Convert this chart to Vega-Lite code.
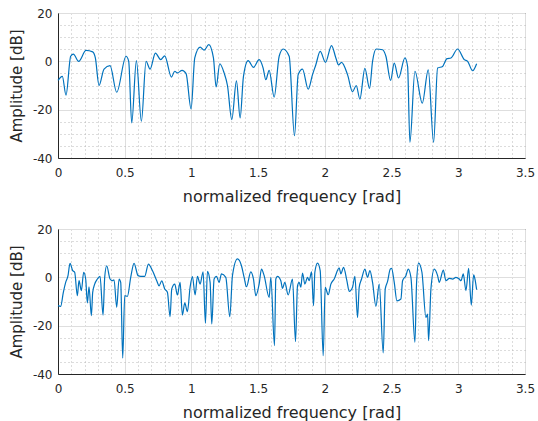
{
  "$schema": "https://vega.github.io/schema/vega-lite/v6.json",
  "background": "white",
  "padding": {"left": 8, "top": 6, "right": 2, "bottom": 2},
  "spacing": 17,
  "config": {
    "font": "DejaVu Sans",
    "view": {"stroke": "#262626", "strokeWidth": 1},
    "axis": {
      "labelFont": "DejaVu Sans",
      "titleFont": "DejaVu Sans",
      "labelColor": "#262626",
      "titleColor": "#262626",
      "titleFontWeight": "normal",
      "labelFontSize": 12,
      "titleFontSize": 15,
      "domainColor": "#262626",
      "labelFlush": false,
      "ticks": false
    }
  },
  "datasets": {
    "top": [
      {"f":0,"a":-7.9},{"f":0.0325,"a":-6.2},{"f":0.06,"a":-14},{"f":0.095,"a":2.1},{"f":0.115,"a":3},
      {"f":0.155,"a":0},{"f":0.21,"a":4.5},{"f":0.26,"a":3.9},{"f":0.28,"a":1.4},{"f":0.3075,"a":-10},
      {"f":0.345,"a":-3.2},{"f":0.39,"a":-1.8},{"f":0.44,"a":-12.8},{"f":0.51,"a":2.1},{"f":0.53,"a":0},
      {"f":0.5525,"a":-25.5},{"f":0.5875,"a":0.3},{"f":0.625,"a":-24.8},{"f":0.66,"a":0},{"f":0.69,"a":-3.2},
      {"f":0.73,"a":3.4},{"f":0.77,"a":0.7},{"f":0.8,"a":2.3},{"f":0.85,"a":-6.5},{"f":0.875,"a":-4.1},
      {"f":0.895,"a":-4.8},{"f":0.93,"a":-3.7},{"f":0.96,"a":-5.1},{"f":0.9975,"a":-19.7},{"f":1.025,"a":1.4},
      {"f":1.065,"a":5.9},{"f":1.095,"a":4.6},{"f":1.13,"a":6.9},{"f":1.165,"a":1.4},{"f":1.185,"a":-10.6},
      {"f":1.2125,"a":-1},{"f":1.245,"a":-4.8},{"f":1.27,"a":-10},{"f":1.3025,"a":-24.1},{"f":1.3375,"a":-8.1},
      {"f":1.365,"a":-23.4},{"f":1.39,"a":-6.2},{"f":1.425,"a":0.3},{"f":1.465,"a":-2.5},{"f":1.5075,"a":0.7},
      {"f":1.5375,"a":-2.8},{"f":1.5575,"a":-7.6},{"f":1.5825,"a":-3.7},{"f":1.62,"a":-14.8},{"f":1.6575,"a":2.1},
      {"f":1.6875,"a":5.1},{"f":1.7325,"a":2.1},{"f":1.7725,"a":-30.8},{"f":1.8,"a":-5.5},{"f":1.8325,"a":-3.2},
      {"f":1.875,"a":-11.5},{"f":1.9075,"a":-5.5},{"f":1.9325,"a":-1.4},{"f":1.965,"a":4.1},{"f":2.005,"a":-0.4},
      {"f":2.05,"a":6.5},{"f":2.0825,"a":1.4},{"f":2.1025,"a":-1.5},{"f":2.125,"a":-0.4},{"f":2.17,"a":-5.5},
      {"f":2.2075,"a":-12.6},{"f":2.235,"a":-10},{"f":2.2625,"a":-15.6},{"f":2.3,"a":-2.9},{"f":2.335,"a":-11.2},
      {"f":2.3575,"a":0},{"f":2.385,"a":5.1},{"f":2.4325,"a":4.8},{"f":2.4575,"a":2.1},{"f":2.4925,"a":-7.9},
      {"f":2.52,"a":-0.7},{"f":2.5525,"a":-6.9},{"f":2.6,"a":1.4},{"f":2.62,"a":-2.1},{"f":2.6375,"a":-33.5},
      {"f":2.675,"a":-4.1},{"f":2.73,"a":-17.3},{"f":2.775,"a":-3.5},{"f":2.815,"a":-33.5},{"f":2.845,"a":-2.8},
      {"f":2.8825,"a":-2.1},{"f":2.915,"a":1.1},{"f":2.945,"a":1.4},{"f":2.995,"a":5.1},{"f":3.045,"a":0.7},
      {"f":3.07,"a":0},{"f":3.1075,"a":-3.9},{"f":3.1375,"a":-1.0}
    ],
    "bottom": [
      {"f":0,"a":-11.7},{"f":0.02,"a":-12},{"f":0.04,"a":-6.2},{"f":0.0575,"a":-2.1},{"f":0.075,"a":0.7},
      {"f":0.09,"a":5.8},{"f":0.11,"a":2.8},{"f":0.125,"a":2.1},{"f":0.145,"a":-7.6},{"f":0.1575,"a":-1.4},
      {"f":0.175,"a":-5.5},{"f":0.1925,"a":2.1},{"f":0.2075,"a":-0.7},{"f":0.22,"a":-10.6},{"f":0.2325,"a":-3.9},
      {"f":0.25,"a":-15.9},{"f":0.26,"a":-6.2},{"f":0.275,"a":-2.8},{"f":0.295,"a":-0.7},{"f":0.315,"a":0.4},
      {"f":0.3375,"a":-15.6},{"f":0.35,"a":0},{"f":0.365,"a":4.8},{"f":0.39,"a":-0.7},{"f":0.4075,"a":-1.4},
      {"f":0.42,"a":-1.0},{"f":0.44,"a":-12.4},{"f":0.4575,"a":-0.7},{"f":0.47,"a":-2.1},{"f":0.485,"a":-33.4},
      {"f":0.5,"a":-7.6},{"f":0.52,"a":-7.9},{"f":0.545,"a":0},{"f":0.57,"a":5.8},{"f":0.6,"a":0.7},
      {"f":0.62,"a":0.4},{"f":0.65,"a":0.4},{"f":0.6775,"a":5.5},{"f":0.7075,"a":2.8},{"f":0.74,"a":-1.4},
      {"f":0.7575,"a":-3.5},{"f":0.7775,"a":-1.5},{"f":0.8,"a":-4.8},{"f":0.82,"a":-6.2},{"f":0.84,"a":-16.3},
      {"f":0.8525,"a":-4.8},{"f":0.875,"a":-2.8},{"f":0.895,"a":-7.3},{"f":0.915,"a":-2.1},{"f":0.9325,"a":-15.6},
      {"f":0.95,"a":-10.6},{"f":0.97,"a":-14.2},{"f":0.99,"a":-4.1},{"f":1.0075,"a":0.3},{"f":1.0275,"a":-7.3},
      {"f":1.045,"a":0.4},{"f":1.065,"a":-2.8},{"f":1.0875,"a":2.3},{"f":1.105,"a":-19},{"f":1.12,"a":2.5},
      {"f":1.14,"a":-2.1},{"f":1.1525,"a":-19.3},{"f":1.17,"a":-0.7},{"f":1.1875,"a":0.4},{"f":1.2075,"a":-2.1},
      {"f":1.225,"a":1.4},{"f":1.2575,"a":0},{"f":1.2875,"a":-16.3},{"f":1.3075,"a":0.7},{"f":1.345,"a":7.6},
      {"f":1.375,"a":4.8},{"f":1.395,"a":0},{"f":1.4125,"a":-3.9},{"f":1.445,"a":2.3},{"f":1.465,"a":-0.7},
      {"f":1.4825,"a":-7.6},{"f":1.5075,"a":-2.8},{"f":1.525,"a":3.4},{"f":1.545,"a":0.7},{"f":1.5825,"a":-8.3},
      {"f":1.595,"a":0},{"f":1.6225,"a":-28.3},{"f":1.6325,"a":-0.7},{"f":1.645,"a":0.4},{"f":1.67,"a":-1.4},
      {"f":1.6825,"a":-4.6},{"f":1.7,"a":-2.1},{"f":1.725,"a":-7.3},{"f":1.7575,"a":-0.7},{"f":1.78,"a":-26.6},
      {"f":1.795,"a":-3.5},{"f":1.8075,"a":-2.1},{"f":1.82,"a":-4.1},{"f":1.8325,"a":1.8},{"f":1.85,"a":-2.8},
      {"f":1.87,"a":0},{"f":1.8825,"a":-1.4},{"f":1.9,"a":2.3},{"f":1.915,"a":-11.7},{"f":1.925,"a":2.1},
      {"f":1.945,"a":5.9},{"f":1.965,"a":2.8},{"f":1.9875,"a":-32.4},{"f":2.0025,"a":-4.1},{"f":2.025,"a":-7.2},
      {"f":2.045,"a":-2.8},{"f":2.07,"a":-0.7},{"f":2.1075,"a":3.9},{"f":2.12,"a":1.4},{"f":2.14,"a":4.1},
      {"f":2.165,"a":-1.4},{"f":2.1825,"a":-5.8},{"f":2.2075,"a":-4.1},{"f":2.225,"a":0.4},{"f":2.245,"a":-16.6},
      {"f":2.2575,"a":-4.1},{"f":2.275,"a":-0.7},{"f":2.3,"a":3.4},{"f":2.32,"a":0},{"f":2.3375,"a":2.8},
      {"f":2.3575,"a":-2.1},{"f":2.3825,"a":-12},{"f":2.4075,"a":-2.8},{"f":2.4375,"a":-31.3},{"f":2.4525,"a":-4.8},
      {"f":2.47,"a":-1.7},{"f":2.49,"a":3.4},{"f":2.5,"a":3.7},{"f":2.52,"a":-2.1},{"f":2.54,"a":-9.7},
      {"f":2.57,"a":-9},{"f":2.5825,"a":-1.4},{"f":2.6075,"a":0.7},{"f":2.625,"a":3.4},{"f":2.645,"a":0},
      {"f":2.675,"a":-26.9},{"f":2.6875,"a":-2.1},{"f":2.7025,"a":5.9},{"f":2.7275,"a":2.1},{"f":2.7575,"a":-16.6},
      {"f":2.77,"a":-15.2},{"f":2.7775,"a":-26.2},{"f":2.795,"a":-4.8},{"f":2.82,"a":3.4},{"f":2.845,"a":0.7},
      {"f":2.8575,"a":-2.1},{"f":2.8875,"a":3},{"f":2.9075,"a":-1.4},{"f":2.9325,"a":-0.4},{"f":2.9575,"a":-0.7},
      {"f":2.9825,"a":0},{"f":3.0075,"a":-0.7},{"f":3.02,"a":-1.4},{"f":3.0375,"a":1.4},{"f":3.0575,"a":-5.5},
      {"f":3.0775,"a":3.7},{"f":3.0975,"a":-11.5},{"f":3.115,"a":1},{"f":3.125,"a":-0.7},{"f":3.1375,"a":-5.1}
    ]
  },
  "vconcat": [
    {
      "width": 467, "height": 145,
      "data": {"name": "top"},
      "layer": [
        {
          "mark": {"type": "line", "opacity": 0},
          "encoding": {
            "x": {"field": "f", "type": "quantitative", "scale": {"domain": [0, 3.5], "nice": false},
                  "axis": {"orient": "top", "values": [0.1,0.2,0.3,0.4,0.6,0.7,0.8,0.9,1.1,1.2,1.3,1.4,1.6,1.7,1.8,1.9,2.1,2.2,2.3,2.4,2.6,2.7,2.8,2.9,3.1,3.2,3.3,3.4],
                           "grid": true, "gridDash": [1, 3], "gridColor": "#b8b8b8", "gridWidth": 1, "labels": false, "ticks": false, "domain": false, "title": null}},
            "y": {"field": "a", "type": "quantitative", "scale": {"domain": [-40, 20], "nice": false},
                  "axis": {"orient": "right", "values": [-35,-30,-25,-15,-10,-5,5,10,15],
                           "grid": true, "gridDash": [1, 3], "gridColor": "#b8b8b8", "gridWidth": 1, "labels": false, "ticks": false, "domain": false, "title": null}}
          }
        },
        {
          "mark": {"type": "line", "color": "#0072BD", "strokeWidth": 1.2, "interpolate": "monotone"},
          "encoding": {
            "x": {"field": "f", "type": "quantitative", "scale": {"domain": [0, 3.5], "nice": false},
                  "axis": {"orient": "bottom", "values": [0,0.5,1,1.5,2,2.5,3,3.5], "labelExpr": "'' + datum.value",
                           "grid": true, "gridColor": "#dedede", "labelPadding": 9, "titlePadding": 10, "titleFontSize": 16, "title": "normalized frequency [rad]"}},
            "y": {"field": "a", "type": "quantitative", "scale": {"domain": [-40, 20], "nice": false},
                  "axis": {"orient": "left", "values": [-40,-20,0,20], "labelExpr": "'' + datum.value",
                           "grid": true, "gridColor": "#dedede", "labelPadding": 6, "titlePadding": 8, "title": "Amplitude [dB]"}}
          }
        }
      ],
      "resolve": {"axis": {"x": "independent", "y": "independent"}}
    },
    {
      "width": 467, "height": 145,
      "data": {"name": "bottom"},
      "layer": [
        {
          "mark": {"type": "line", "opacity": 0},
          "encoding": {
            "x": {"field": "f", "type": "quantitative", "scale": {"domain": [0, 3.5], "nice": false},
                  "axis": {"orient": "top", "values": [0.1,0.2,0.3,0.4,0.6,0.7,0.8,0.9,1.1,1.2,1.3,1.4,1.6,1.7,1.8,1.9,2.1,2.2,2.3,2.4,2.6,2.7,2.8,2.9,3.1,3.2,3.3,3.4],
                           "grid": true, "gridDash": [1, 3], "gridColor": "#b8b8b8", "gridWidth": 1, "labels": false, "ticks": false, "domain": false, "title": null}},
            "y": {"field": "a", "type": "quantitative", "scale": {"domain": [-40, 20], "nice": false},
                  "axis": {"orient": "right", "values": [-35,-30,-25,-15,-10,-5,5,10,15],
                           "grid": true, "gridDash": [1, 3], "gridColor": "#b8b8b8", "gridWidth": 1, "labels": false, "ticks": false, "domain": false, "title": null}}
          }
        },
        {
          "mark": {"type": "line", "color": "#0072BD", "strokeWidth": 1.2, "interpolate": "monotone"},
          "encoding": {
            "x": {"field": "f", "type": "quantitative", "scale": {"domain": [0, 3.5], "nice": false},
                  "axis": {"orient": "bottom", "values": [0,0.5,1,1.5,2,2.5,3,3.5], "labelExpr": "'' + datum.value",
                           "grid": true, "gridColor": "#dedede", "labelPadding": 9, "titlePadding": 10, "titleFontSize": 16, "title": "normalized frequency [rad]"}},
            "y": {"field": "a", "type": "quantitative", "scale": {"domain": [-40, 20], "nice": false},
                  "axis": {"orient": "left", "values": [-40,-20,0,20], "labelExpr": "'' + datum.value",
                           "grid": true, "gridColor": "#dedede", "labelPadding": 6, "titlePadding": 8, "title": "Amplitude [dB]"}}
          }
        }
      ],
      "resolve": {"axis": {"x": "independent", "y": "independent"}}
    }
  ]
}
